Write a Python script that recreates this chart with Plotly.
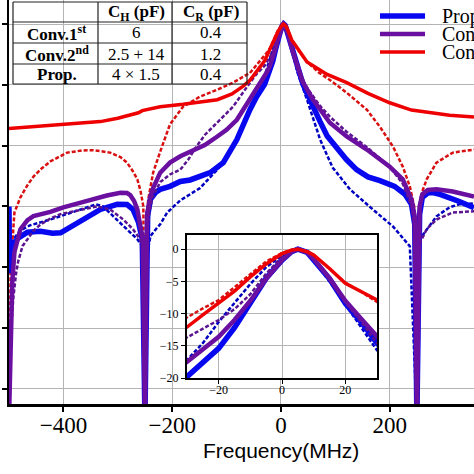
import plotly.graph_objects as go

# ---------------- data (frequency in MHz, response in dB) ----------------
prop_f = [-500, -499, -496, -490, -484, -466, -442, -420, -405, -393, -363, -332, -301, -283, -272, -262, -255, -250,
          -245, -240, -230, -222, -204, -185, -167, -149, -130, -106, -81, -57, -45, -30, -25, -20, -15, -10, -5, 0, 3,
          5, 8, 10, 15, 20, 25, 30, 40, 48, 60, 72, 85, 103, 120, 139, 160, 182, 209, 228, 240, 246, 250,
          255, 260, 270, 277, 290, 305, 328, 355]
prop_db = [-60, -82, -76, -72, -70.5, -68.5, -68.2, -68.8, -68.7, -67.5, -64.3, -61, -59.3, -59.4, -61, -65.2, -70.8, -130,
           -63, -57.7, -55.3, -54.4, -53.4, -51.8, -51.3, -50.2, -48.9, -45.6, -38, -28.2, -24, -19.8, -17.6, -15.4, -12.2, -8.4, -4.5, -1.7, -0.4,
           0, -0.5, -1.7, -4.6, -8.4, -11.3, -14.6, -19.5, -22.8, -28, -32.1, -36.8, -40.7, -44.5, -47.9, -50.3, -51.5, -53.4, -56, -59.3, -65.9, -130,
           -62.6, -57, -55.6, -55.4, -55.9, -56.7, -58.4, -60.4]

conv2_f = [-500, -497, -494, -490, -484, -479, -466, -455, -424, -400, -363, -345, -320, -295, -283, -277, -270, -264, -258, -254, -250,
           -246, -240, -235, -222, -204, -185, -167, -140, -117, -100, -81, -57, -45, -30, -25, -20, -15, -10, -5, 0, 3,
           5, 8, 10, 15, 20, 25, 30, 40, 59, 75, 90, 121, 158, 200, 224, 240, 246, 250,
           255, 260, 270, 286, 316, 355]
conv2_db = [-130, -100, -85, -75, -70.5, -67.5, -64.5, -63.2, -61.8, -60.3, -58.5, -57.5, -56.4, -55.5, -55.6, -56.3, -58.2, -61, -66, -71, -130,
            -62.6, -56.7, -54, -48.9, -45.6, -43.5, -42, -39.8, -37, -34.8, -31.5, -24.9, -21.5, -17.5, -15.6, -13.6, -11, -8, -4.6, -1.7, -0.4,
            0, -0.5, -1.5, -4.5, -8, -10.8, -13.5, -19, -24.9, -29, -32.5, -37, -41.3, -46.9, -51.1, -57.7, -63.3, -130,
            -60, -56, -54.6, -54.4, -55.1, -56.8]

conv1_f = [-500, -450, -400, -332, -300, -277, -262, -255, -250, -240, -222, -180, -150, -117, -90, -70, -57, -45, -30, -25, -20,
           -15, -10, -5, 0, 3, 5, 8, 10, 15, 20, 25, 30, 48, 85, 121, 160, 200, 240, 273, 310, 355]
conv1_db = [-34.4, -33.7, -33.1, -32.1, -31, -29.8, -29.2, -28.5, -28.3, -27.9, -27.2, -26.4, -25.8, -24.9, -23, -20.5, -18.5, -15.8, -12.1, -10.2, -8.4,
            -6.5, -4.3, -2.3, -0.7, -0.15, 0, -0.4, -0.9, -3, -5.3, -6.6, -7.9, -12.5, -16.6, -19.3, -22.8, -25.9, -28.3, -29.2, -30, -30.6]

prop_dot_f = [-500, -497, -492, -479, -461, -424, -393, -363, -340, -327, -308, -283, -264, -255, -250,
              -245, -240, -230, -222, -209, -185, -167, -149, -117, -88, -62, -45, -30, -25, -20, -15, -10, -5, 0, 3,
              5, 8, 10, 15, 20, 25, 30, 48, 72, 95, 127, 169, 206, 237, 250,
              255, 268, 286, 310, 328, 355]
prop_dot_db = [-80, -76, -70.8, -67.9, -66.2, -64.3, -62.6, -60.7, -59.3, -60, -63.3, -67.5, -70.8, -73.1, -130,
               -74.8, -69.8, -67.5, -65.9, -62, -58, -56, -54, -47.9, -40.7, -29.5, -22.5, -17.2, -14.6, -11.3, -8.4, -5.4, -2.8, -1, -0.3,
               0, -0.6, -1.8, -5, -8.6, -12, -15.7, -24.9, -38, -47.2, -54.4, -61, -66.6, -73.1, -130,
               -70.8, -67.5, -63.3, -60.3, -59.3, -59]

conv2_dot_f = [-500, -496, -492, -487, -483, -475, -466, -455, -442, -424, -406, -385, -363, -338, -314, -290, -272, -259, -254, -250,
               -246, -242, -236, -228, -222, -204, -185, -170, -158, -140, -117, -100, -88, -57, -45, -30, -25, -20, -15, -10, -5, 0, 3,
               5, 8, 10, 15, 20, 25, 30, 48, 70, 90, 121, 158, 200, 224, 240, 246, 250,
               255, 259, 268, 286, 316, 355]
conv2_dot_db = [-130, -100, -90, -82, -78, -73, -70.8, -68, -65.9, -64, -62.6, -61.8, -61, -60, -61, -64.3, -67.5, -70.8, -74, -130,
                -68, -62, -57, -54, -52, -49.5, -47.9, -44.5, -41, -36.5, -32.5, -29.5, -27.2, -19.3, -16.5, -13.7, -12.3, -11, -9.3, -7, -3.8, -1.2, -0.3,
                0, -0.6, -1.6, -4.8, -8.3, -11.3, -14.6, -21, -26.5, -30.5, -35.5, -40.5, -47, -52.5, -60, -68, -130,
                -72, -70.8, -67.5, -64.3, -62, -61.6]

conv1_dot_f = [-500, -497, -490, -479, -466, -455, -440, -424, -393, -365, -345, -314, -295, -283, -272, -264, -258, -253, -250,
               -246, -244, -240, -235, -222, -204, -180, -149, -117, -88, -57, -45, -30, -25, -20, -15, -10, -5, 0, 3,
               5, 8, 10, 15, 20, 25, 30, 48, 70, 90, 121, 158, 182, 206, 224, 237, 245, 250,
               255, 260, 268, 286, 316, 355]
conv1_dot_db = [-130, -80, -62, -57, -53, -50.2, -47.5, -45.2, -42.3, -41.6, -41.5, -42.3, -43.8, -45.6, -48.5, -51.1, -55, -60, -130,
                -62, -57.7, -53.4, -48.9, -42, -33, -27.2, -23.9, -21.6, -19.3, -16.1, -13.5, -10.6, -9.2, -7.9, -5.9, -3.9, -1.9, -0.6, -0.1,
                0, -0.4, -0.9, -3, -5.2, -6.6, -8.2, -12.5, -16, -18.4, -22.6, -28.2, -33.8, -40.3, -46.9, -53.4, -60, -130,
                -60, -55, -51.1, -45.6, -42.3, -41.3]

legend_names = ["Proposed", "Conv. 2nd", "Conv. 1st"]
table_header = ["", "<b>C<sub>H</sub> (pF)</b>", "<b>C<sub>R</sub> (pF)</b>"]
table_rows = [["<b>Conv.1<sup>st</sup></b>", "6", "0.4"],
              ["<b>Conv.2<sup>nd</sup></b>", "2.5 + 14", "1.2"],
              ["<b>Prop.</b>", "4 × 1.5", "0.4"]]
x_ticks = [-400, -200, 0, 200]
y_ticks = [0, -20, -40, -60, -80, -100, -120]
inset_x_ticks = [-20, 0, 20]
inset_y_ticks = [0, -5, -10, -15, -20]

# ---------------- styles ----------------
BLUE, PURPLE, RED = "#0808f0", "#6a0fa0", "#ee0000"
BLUE_D, PURPLE_D, RED_D = "#0000c0", "#5a1490", "#d81010"
SERIF = "Liberation Serif"
W, H = 474, 474
ML, MB = 9, 70
PW, PH = W - ML, H - MB


def px(x):
    return (x - ML) / PW


def py(y):
    return (PH - y) / PH


traces = [
    (prop_dot_f, prop_dot_db, BLUE_D, 2.5, "4px,2px"),
    (conv1_dot_f, conv1_dot_db, RED_D, 2.5, "4px,2px"),
    (prop_f, prop_db, BLUE, 5.5, "solid"),
    (conv2_dot_f, conv2_dot_db, PURPLE_D, 2.5, "4px,2px"),
    (conv2_f, conv2_db, PURPLE, 4.5, "solid"),
    (conv1_f, conv1_db, RED, 3.5, "solid"),
]

fig = go.Figure()
for xa, ya in (("x", "y"), ("x2", "y2")):
    for f, d, c, w, dash in traces:
        fig.add_trace(go.Scatter(x=f, y=d, mode="lines", xaxis=xa, yaxis=ya, showlegend=False,
                                 line=dict(color=c, width=w, dash=dash), hoverinfo="skip"))

grid = "#b4b4b4"
fig.update_layout(
    width=W, height=H, margin=dict(l=ML, r=0, t=0, b=MB),
    paper_bgcolor="white", plot_bgcolor="white",
    xaxis=dict(domain=[0, 1], range=[-500, 355], tickvals=x_ticks, ticks="outside", ticklen=5, tickwidth=1.5,
               tickcolor="black", showline=True, linewidth=2.5, linecolor="black", showgrid=True, gridcolor=grid,
               gridwidth=1, zeroline=False, ticklabelstandoff=-6,
               tickfont=dict(family=SERIF, size=23, color="black")),
    yaxis=dict(domain=[0, 1], range=[-125, 7.9], tickvals=y_ticks, showticklabels=False, ticks="outside", ticklen=5,
               tickwidth=1.5, tickcolor="black", showline=True, linewidth=2, linecolor="black", showgrid=True,
               gridcolor=grid, gridwidth=1, zeroline=False),
    xaxis2=dict(domain=[px(187), px(377)], anchor="y2", range=[-30, 30], tickvals=inset_x_ticks, ticks="outside",
                ticklen=4, tickwidth=1.2, tickcolor="black", showline=True, mirror=True, linewidth=2, linecolor="black",
                showgrid=True, gridcolor=grid, gridwidth=1, zeroline=False, ticklabelstandoff=-4,
                tickfont=dict(family=SERIF, size=12, color="black")),
    yaxis2=dict(domain=[py(378), py(235)], anchor="x2", range=[-20, 2.2], tickvals=inset_y_ticks, ticks="outside",
                ticklen=4, tickwidth=1.2, tickcolor="black", showline=True, mirror=True, linewidth=2, linecolor="black",
                showgrid=True, gridcolor=grid, gridwidth=1, zeroline=False,
                tickfont=dict(family=SERIF, size=12, color="black")),
)

shapes = []
annotations = []

# axis title
annotations.append(dict(x=px(281), y=py(450), xref="paper", yref="paper", text="Frequency(MHz)", showarrow=False,
                        xanchor="center", yanchor="middle",
                        font=dict(family="Liberation Sans", size=21, color="black")))

# table
col_x = [13, 98, 172, 247]
row_y = [2, 22, 43, 64, 84]
for yy in row_y:
    shapes.append(dict(type="line", xref="paper", yref="paper", x0=px(col_x[0]), x1=px(col_x[-1]), y0=py(yy), y1=py(yy),
                       line=dict(color="#222", width=1.2)))
for xx in col_x:
    shapes.append(dict(type="line", xref="paper", yref="paper", x0=px(xx), x1=px(xx), y0=py(row_y[0]), y1=py(row_y[-1]),
                       line=dict(color="#222", width=1.2)))
all_rows = [table_header] + table_rows
for r, row in enumerate(all_rows):
    yc = (row_y[r] + row_y[r + 1]) / 2 + 0.5
    for c, txt in enumerate(row):
        if not txt:
            continue
        xc = (col_x[c] + col_x[c + 1]) / 2 + 1
        annotations.append(dict(x=px(xc), y=py(yc), xref="paper", yref="paper", text=txt, showarrow=False,
                                xanchor="center", yanchor="middle",
                                font=dict(family=SERIF, size=17, color="black")))

# legend (drawn manually; partly outside the visible canvas like the reference)
leg_y = [16, 34, 52]
leg_c = [BLUE, PURPLE, RED]
leg_w = [5.5, 4.5, 3.5]
for name, yy, c, w in zip(legend_names, leg_y, leg_c, leg_w):
    shapes.append(dict(type="line", xref="paper", yref="paper", x0=px(380), x1=px(425), y0=py(yy), y1=py(yy),
                       line=dict(color=c, width=w)))
    annotations.append(dict(x=px(440), y=py(yy), xref="paper", yref="paper", text=name, showarrow=False,
                            xanchor="left", yanchor="middle", font=dict(family=SERIF, size=20, color="black")))

fig.update_layout(shapes=shapes, annotations=annotations)
fig.write_html("out.html", config={"displayModeBar": False},
               post_script="document.body.style.margin='0';document.body.style.overflow='hidden';")
